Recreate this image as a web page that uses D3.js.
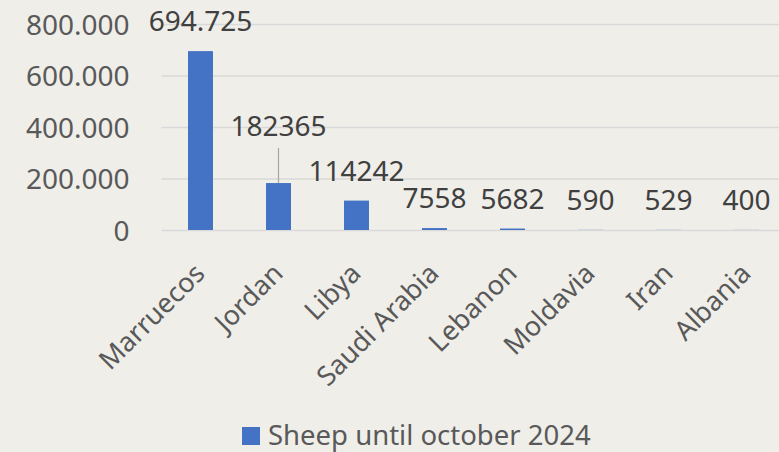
<!DOCTYPE html>
<html>
<head>
<meta charset="utf-8">
<script src="https://cdn.jsdelivr.net/npm/d3@7"></script>
<style>
  html, body { margin: 0; padding: 0; background: #efeee9; }
  svg { display: block; font-family: "Noto Sans", "Open Sans", sans-serif; }
</style>
</head>
<body>
<div id="root"></div>
<script>
// data
const categories = ['Marruecos', 'Jordan', 'Libya', 'Saudi Arabia', 'Lebanon', 'Moldavia', 'Iran', 'Albania'];
const sheepValues = [694725, 182365, 114242, 7558, 5682, 590, 529, 400];
const valueLabels = ['694.725', '182365', '114242', '7558', '5682', '590', '529', '400'];
const yTickValues = [0, 200000, 400000, 600000, 800000];
const seriesName = 'Sheep until october 2024';

const width = 779;
const height = 452;
const plot = { left: 161.5, right: 785.5, top: 24, bottom: 230 };

const svg = d3.select('#root').append('svg')
    .attr('width', width)
    .attr('height', height)
    .attr('xmlns', 'http://www.w3.org/2000/svg');

svg.append('rect')
    .attr('width', width)
    .attr('height', height)
    .attr('fill', '#efeee9');

const x = d3.scaleBand()
    .domain(categories)
    .range([plot.left, plot.right])
    .paddingInner(0.68)
    .paddingOuter(0.34);

const y = d3.scaleLinear()
    .domain([0, 800000])
    .range([plot.bottom, plot.top]);

const fmt = d3.formatLocale({ decimal: ',', thousands: '.', grouping: [3], currency: ['', ''] }).format(',');

// gridlines + y labels
const gy = svg.append('g')
    .attr('transform', `translate(${plot.left},0)`)
    .call(d3.axisLeft(y).tickValues(yTickValues).tickSize(-(width - plot.left)).tickPadding(32).tickFormat(fmt));

gy.select('.domain').remove();
gy.selectAll('.tick line')
    .attr('stroke', '#d9d9d9')
    .attr('stroke-width', 1.3);
gy.selectAll('.tick text')
    .attr('fill', '#595959')
    .attr('font-size', 28)
    .attr('font-family', '"Noto Sans", sans-serif')
    .attr('dy', '0.36em');

// bars
svg.append('g')
    .selectAll('rect')
    .data(categories)
    .join('rect')
    .attr('x', d => x(d))
    .attr('y', (d, i) => y(sheepValues[i]))
    .attr('width', x.bandwidth())
    .attr('height', (d, i) => y(0) - y(sheepValues[i]))
    .attr('fill', '#4472c4');

// data labels (Jordan's was dragged up with a leader line)
const movedLabel = { Jordan: 136 };

categories.forEach((c, i) => {
    const cx = x(c) + x.bandwidth() / 2;
    const top = y(sheepValues[i]);
    const ly = movedLabel[c] !== undefined ? movedLabel[c] : top - 20;
    if (movedLabel[c] !== undefined) {
        svg.append('line')
            .attr('x1', cx).attr('x2', cx)
            .attr('y1', ly + 12).attr('y2', top)
            .attr('stroke', '#a6a6a6')
            .attr('stroke-width', 1.2);
    }
    svg.append('text')
        .attr('x', cx)
        .attr('y', ly)
        .attr('text-anchor', 'middle')
        .attr('font-size', 28)
        .attr('fill', '#404040')
        .text(valueLabels[i]);
});

// rotated category labels
svg.append('g')
    .selectAll('text')
    .data(categories)
    .join('text')
    .attr('transform', d => `translate(${x(d) + x.bandwidth() / 2 + 6},275) rotate(-45)`)
    .attr('text-anchor', 'end')
    .attr('font-size', 27)
    .attr('fill', '#595959')
    .text(d => d);

// legend
const lg = svg.append('g').attr('transform', 'translate(242,427)');
lg.append('rect')
    .attr('width', 18)
    .attr('height', 18)
    .attr('fill', '#4472c4');
lg.append('text')
    .attr('x', 26)
    .attr('y', 18)
    .attr('font-size', 27.5)
    .attr('fill', '#595959')
    .text(seriesName);
</script>
</body>
</html>
